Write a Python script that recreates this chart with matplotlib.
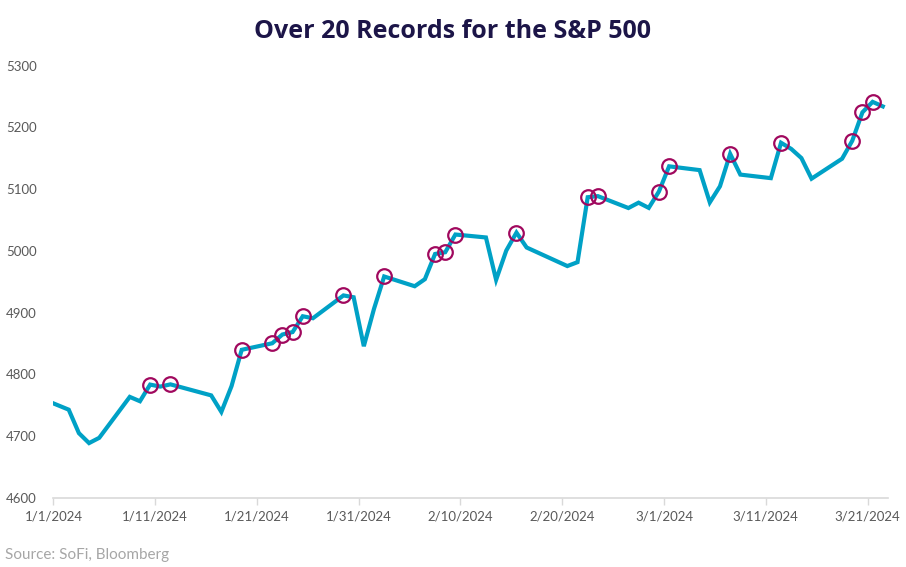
import pandas as pd
import numpy as np
import matplotlib.pyplot as plt

# S&P 500 daily closes
dates = ['2023-12-29',
         '2024-01-02', '2024-01-03', '2024-01-04', '2024-01-05', '2024-01-08',
         '2024-01-09', '2024-01-10', '2024-01-11', '2024-01-12', '2024-01-16',
         '2024-01-17', '2024-01-18', '2024-01-19', '2024-01-22', '2024-01-23',
         '2024-01-24', '2024-01-25', '2024-01-26', '2024-01-29', '2024-01-30',
         '2024-01-31', '2024-02-01', '2024-02-02', '2024-02-05', '2024-02-06',
         '2024-02-07', '2024-02-08', '2024-02-09', '2024-02-12', '2024-02-13',
         '2024-02-14', '2024-02-15', '2024-02-16', '2024-02-20', '2024-02-21',
         '2024-02-22', '2024-02-23', '2024-02-26', '2024-02-27', '2024-02-28',
         '2024-02-29', '2024-03-01', '2024-03-04', '2024-03-05', '2024-03-06',
         '2024-03-07', '2024-03-08', '2024-03-11', '2024-03-12', '2024-03-13',
         '2024-03-14', '2024-03-15', '2024-03-18', '2024-03-19', '2024-03-20',
         '2024-03-21', '2024-03-22']
closes = [4769.83,
          4742.83, 4704.81, 4688.68, 4697.24, 4763.54,
          4756.50, 4783.45, 4780.24, 4783.83, 4765.98,
          4739.21, 4780.94, 4839.81, 4850.43, 4864.60,
          4868.55, 4894.16, 4890.97, 4927.93, 4924.97,
          4845.65, 4906.19, 4958.61, 4942.81, 4954.23,
          4995.06, 4997.91, 5026.61, 5021.84, 4953.17,
          5000.62, 5029.73, 5005.57, 4975.51, 4981.80,
          5087.03, 5088.80, 5069.53, 5078.18, 5069.76,
          5096.27, 5137.08, 5130.95, 5078.65, 5104.76,
          5157.36, 5123.69, 5117.94, 5175.27, 5165.31,
          5150.48, 5117.09, 5149.42, 5178.51, 5224.62,
          5241.53, 5234.18]

record_dates = ['2024-01-10', '2024-01-12', '2024-01-19', '2024-01-22', '2024-01-23',
                '2024-01-24', '2024-01-25', '2024-01-29', '2024-02-02', '2024-02-07',
                '2024-02-08', '2024-02-09', '2024-02-15', '2024-02-22', '2024-02-23',
                '2024-02-29', '2024-03-01', '2024-03-07', '2024-03-12', '2024-03-19',
                '2024-03-20', '2024-03-21']

tick_labels = ['1/1/2024', '1/11/2024', '1/21/2024', '1/31/2024', '2/10/2024',
               '2/20/2024', '3/1/2024', '3/11/2024', '3/21/2024']
y_ticks = [4600, 4700, 4800, 4900, 5000, 5100, 5200, 5300]

line_color = '#00A1C6'
record_color = '#A0085E'
text_gray = '#595959'

df = pd.DataFrame({'date': pd.to_datetime(dates), 'close': closes})
rec = df[df['date'].isin(pd.to_datetime(record_dates))]

# points sit in the middle of each day, like the date axis in the original
half_day = pd.Timedelta(hours=12)

fig = plt.figure(figsize=(9.06, 5.67), dpi=100)
ax = fig.add_axes([0.059, 0.122, 0.921, 0.762])

ax.plot(df['date'] + half_day, df['close'], color=line_color, lw=3.0,
        solid_joinstyle='miter', zorder=2)
ax.plot(rec['date'] + half_day, rec['close'], ls='none', marker='o', ms=10.5,
        mfc='none', mec=record_color, mew=1.6, zorder=3)

ax.set_xlim(pd.Timestamp('2024-01-01'), pd.Timestamp('2024-03-23'))
ax.set_ylim(4600, 5300)

tick_pos = pd.to_datetime(tick_labels, format='%m/%d/%Y')
ax.set_xticks(tick_pos)
ax.set_xticklabels(tick_labels, fontsize=9.5, color=text_gray, family='Lato')
ax.set_yticks(y_ticks)
ax.set_yticklabels([str(v) for v in y_ticks], fontsize=9.5, color=text_gray, family='Lato')

for side in ['top', 'right', 'left']:
    ax.spines[side].set_visible(False)
ax.spines['bottom'].set_color('#D9D9D9')
ax.spines['bottom'].set_linewidth(1.2)
ax.tick_params(axis='x', length=5, width=1.0, color='#D9D9D9', pad=4)
ax.tick_params(axis='y', length=0, pad=12)

fig.text(0.5, 0.945, 'Over 20 Records for the S&P 500', ha='center', va='center',
         fontsize=18, fontweight='bold', color='#1C1548', family='Open Sans')
fig.text(0.006, 0.021, 'Source: SoFi, Bloomberg', ha='left', va='center',
         fontsize=11, color='#A6A6A6', family='Lato')

fig.savefig('out.png', dpi=100)
